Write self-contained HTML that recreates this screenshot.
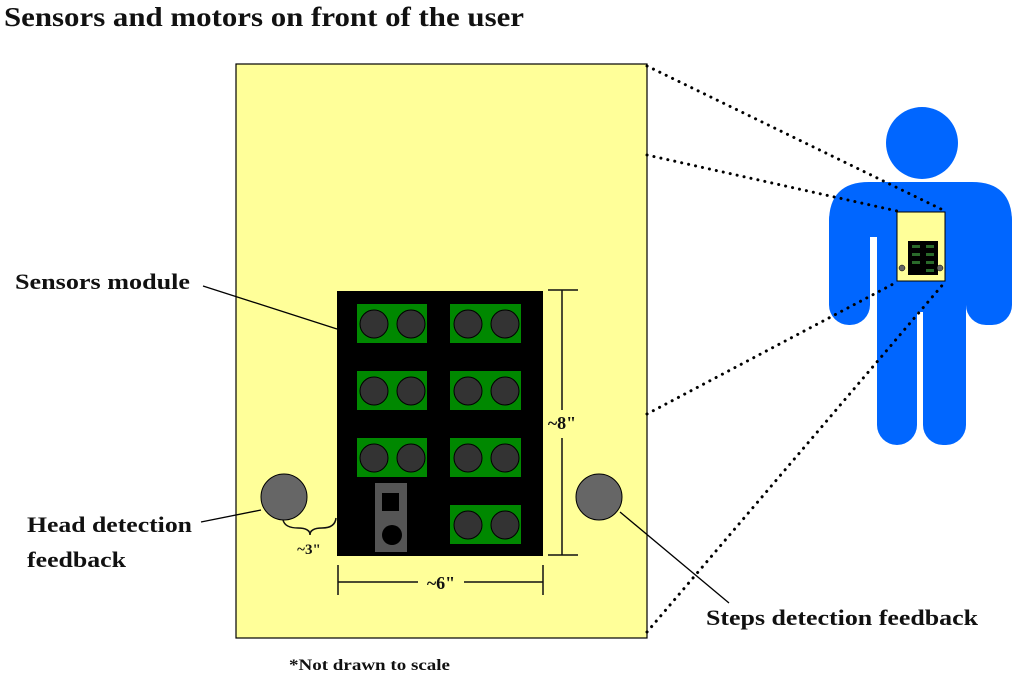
<!DOCTYPE html>
<html><head><meta charset="utf-8"><style>
html,body{margin:0;padding:0;background:#fff}
svg{display:block}
text{font-family:"Liberation Serif",serif;font-weight:bold;fill:#111}
</style></head><body>
<svg width="1018" height="679" viewBox="0 0 1018 679" xmlns="http://www.w3.org/2000/svg">
<text x="4" y="26" font-size="27" textLength="520" lengthAdjust="spacingAndGlyphs">Sensors and motors on front of the user</text>

<rect x="236" y="64" width="411" height="574" fill="#ffff99" stroke="#000" stroke-width="1.2"/>

<!-- person -->
<g fill="#0066ff">
<circle cx="922" cy="143" r="36"/>
<path d="M829 237 L829 222 Q829 182 869 182 L972 182 Q1012 182 1012 222 L1012 237 Z"/>
<rect x="829" y="200" width="41" height="125" rx="20"/>
<rect x="966" y="200" width="46" height="125" rx="20"/>
<rect x="877" y="182" width="89" height="130"/>
<rect x="877" y="290" width="40" height="155" rx="20"/>
<rect x="923" y="290" width="43" height="155" rx="20"/>
</g>
<rect x="897" y="212" width="48" height="69" fill="#ffff99" stroke="#000" stroke-width="1"/>
<rect x="908" y="241" width="30" height="34" fill="#000"/>
<g fill="#2a6a2a"><rect x="912" y="245" width="8" height="3"/><rect x="926" y="245" width="8" height="3"/><rect x="912" y="253" width="8" height="3"/><rect x="926" y="253" width="8" height="3"/><rect x="912" y="261" width="8" height="3"/><rect x="926" y="261" width="8" height="3"/><rect x="926" y="269" width="8" height="3"/></g>
<circle cx="902" cy="268" r="3" fill="#666" stroke="#000" stroke-width=".5"/>
<circle cx="940" cy="268" r="3" fill="#666" stroke="#000" stroke-width=".5"/>

<!-- dotted lines -->
<g stroke="#000" stroke-width="3" stroke-dasharray="0.1 7" stroke-linecap="round" fill="none">
<line x1="647" y1="66" x2="945" y2="211"/>
<line x1="647" y1="155" x2="897" y2="211"/>
<line x1="647" y1="414" x2="897" y2="282"/>
<line x1="647" y1="632" x2="945" y2="282"/>
</g>

<!-- module -->
<rect x="337" y="291" width="206" height="265" fill="#000"/>
<g fill="#008800">
<rect x="357" y="304" width="70" height="39"/><rect x="450" y="304" width="71" height="39"/>
<rect x="357" y="371" width="70" height="39"/><rect x="450" y="371" width="71" height="39"/>
<rect x="357" y="438" width="70" height="39"/><rect x="450" y="438" width="71" height="39"/>
<rect x="450" y="505" width="71" height="39"/>
</g>
<g fill="#333" stroke="#000" stroke-width="1">
<circle cx="374" cy="324" r="14"/><circle cx="411" cy="324" r="14"/><circle cx="468" cy="324" r="14"/><circle cx="505" cy="324" r="14"/>
<circle cx="374" cy="391" r="14"/><circle cx="411" cy="391" r="14"/><circle cx="468" cy="391" r="14"/><circle cx="505" cy="391" r="14"/>
<circle cx="374" cy="458" r="14"/><circle cx="411" cy="458" r="14"/><circle cx="468" cy="458" r="14"/><circle cx="505" cy="458" r="14"/>
<circle cx="468" cy="525" r="14"/><circle cx="505" cy="525" r="14"/>
</g>
<rect x="375" y="483" width="32" height="69" fill="#555"/>
<rect x="382" y="493" width="17" height="18" fill="#000"/>
<circle cx="392" cy="535" r="10" fill="#000"/>

<!-- motors -->
<circle cx="284" cy="497" r="23" fill="#666" stroke="#000" stroke-width="1"/>
<circle cx="599" cy="497" r="23" fill="#666" stroke="#000" stroke-width="1"/>

<!-- dims -->
<g stroke="#111" stroke-width="1.5" fill="none">
<line x1="562" y1="290" x2="562" y2="410"/><line x1="562" y1="438" x2="562" y2="555"/>
<line x1="548" y1="290" x2="578" y2="290"/><line x1="548" y1="555" x2="578" y2="555"/>
<line x1="338" y1="582" x2="418" y2="582"/><line x1="464" y1="582" x2="543" y2="582"/>
<line x1="338" y1="565" x2="338" y2="595"/><line x1="543" y1="565" x2="543" y2="595"/>
<path d="M283 520 Q285 528 298 528 Q310 528 310 535 Q310 528 322 528 Q335 528 336 518"/>
</g>
<text x="562" y="429" font-size="18" text-anchor="middle" font-weight="normal">~8"</text>
<text x="441" y="589" font-size="18" text-anchor="middle" font-weight="normal">~6"</text>
<text x="309" y="554" font-size="15" text-anchor="middle" font-weight="normal">~3"</text>

<!-- leaders -->
<g stroke="#000" stroke-width="1.3">
<line x1="203" y1="286" x2="337" y2="329"/>
<line x1="201" y1="522" x2="261" y2="510"/>
<line x1="620" y1="512" x2="729" y2="603"/>
</g>
<text x="15" y="289" font-size="22" textLength="175" lengthAdjust="spacingAndGlyphs">Sensors module</text>
<text x="27" y="532" font-size="22" textLength="165" lengthAdjust="spacingAndGlyphs">Head detection</text>
<text x="27" y="567" font-size="22" textLength="99" lengthAdjust="spacingAndGlyphs">feedback</text>
<text x="706" y="625" font-size="22" textLength="272" lengthAdjust="spacingAndGlyphs">Steps detection feedback</text>
<text x="289" y="670" font-size="16" textLength="161" lengthAdjust="spacingAndGlyphs">*Not drawn to scale</text>
</svg>
</body></html>
